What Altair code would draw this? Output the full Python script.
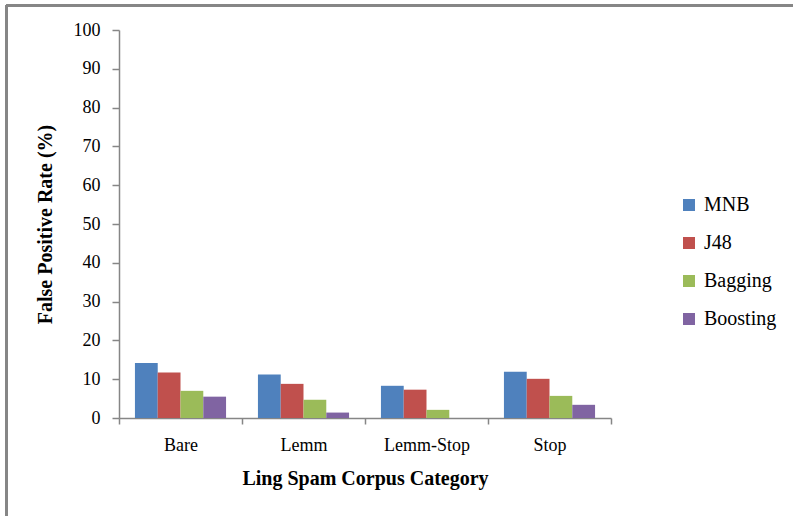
import altair as alt
import pandas as pd

categories = ["Bare", "Lemm", "Lemm-Stop", "Stop"]
classifiers = ["MNB", "J48", "Bagging", "Boosting"]
mnb = [14.2, 11.2, 8.3, 11.9]
j48 = [11.7, 8.8, 7.3, 10.1]
bagging = [7.0, 4.7, 2.1, 5.7]
boosting = [5.5, 1.4, 0.0, 3.4]
colors = ["#4F81BD", "#C0504D", "#9BBB59", "#8064A2"]

rows = []
for name, vals in zip(classifiers, [mnb, j48, bagging, boosting]):
    for cat, v in zip(categories, vals):
        rows.append({"Category": cat, "Classifier": name, "Rate": v})
df = pd.DataFrame(rows)

W, H = 492, 388
PAD_L, PAD_T = 119, 30
FONT = "Liberation Serif"
AXIS_GRAY = "#868686"

bars = alt.Chart(df).mark_bar(width={"band": 1}).encode(
    x=alt.X(
        "Category:N",
        sort=categories,
        scale=alt.Scale(paddingInner=0, paddingOuter=0),
        axis=alt.Axis(
            title="Ling Spam Corpus Category",
            labelAngle=0,
            labelFontSize=18,
            labelPadding=12,
            titleFontSize=20,
            titleFontWeight="bold",
            titlePadding=14,
            tickBand="extent",
            tickSize=6,
        ),
    ),
    xOffset=alt.XOffset(
        "Classifier:N",
        sort=classifiers,
        scale=alt.Scale(paddingInner=0, paddingOuter=0.7),
    ),
    y=alt.Y(
        "Rate:Q",
        scale=alt.Scale(domain=[0, 100], nice=False),
        axis=alt.Axis(
            title="False Positive Rate (%)",
            values=list(range(0, 101, 10)),
            labelFontSize=18,
            labelPadding=12,
            titleFontSize=20,
            titleFontWeight="bold",
            titlePadding=18,
            tickSize=7,
            grid=False,
        ),
    ),
    color=alt.Color(
        "Classifier:N",
        sort=classifiers,
        scale=alt.Scale(domain=classifiers, range=colors),
        legend=alt.Legend(
            title=None,
            orient="none",
            legendX=560,
            legendY=165,
            symbolType="square",
            symbolSize=144,
            symbolStrokeWidth=0,
            labelFontSize=20,
            labelFont=FONT,
            rowPadding=18,
            labelOffset=5,
        ),
    ),
)

# frame lines along the top and left edge of the figure
frame_left = alt.Chart(df).mark_rule(color=AXIS_GRAY, strokeWidth=2).encode(
    x=alt.value(6.5 - PAD_L), y=alt.value(5.5 - PAD_T), y2=alt.value(516 - PAD_T)
)
frame_top = alt.Chart(df).mark_rule(color=AXIS_GRAY, strokeWidth=2).encode(
    x=alt.value(6.5 - PAD_L), x2=alt.value(793 - PAD_L), y=alt.value(5.5 - PAD_T)
)

chart = alt.layer(bars, frame_left, frame_top).properties(
    width=W,
    height=H,
    autosize=alt.AutoSizeParams(type="none"),
    padding={"left": PAD_L, "top": PAD_T, "right": 793 - PAD_L - W, "bottom": 516 - PAD_T - H},
).configure_view(stroke=None).configure_axis(
    labelFont=FONT,
    titleFont=FONT,
    labelColor="black",
    titleColor="black",
    domainColor=AXIS_GRAY,
    tickColor=AXIS_GRAY,
    domainWidth=1.5,
    tickWidth=1.5,
)

chart.save("out.html", embed_options={"renderer": "svg", "actions": False})
